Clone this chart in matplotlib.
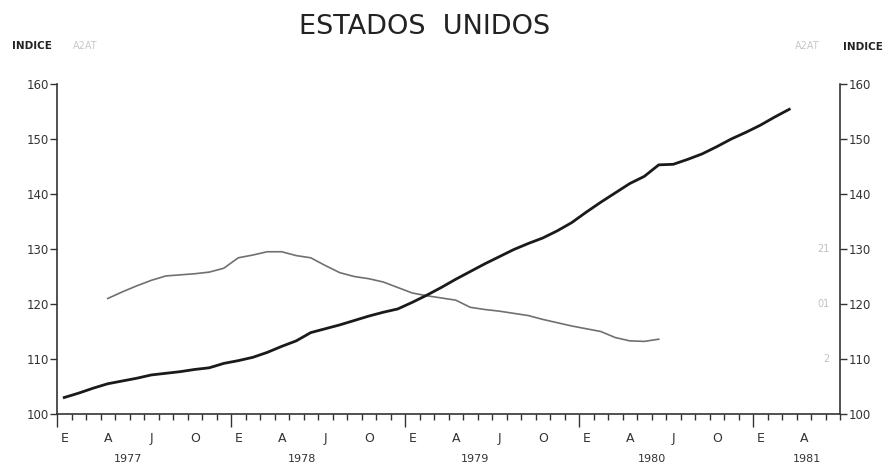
import matplotlib
matplotlib.use("Agg")
import matplotlib.pyplot as plt
import matplotlib.transforms as mtransforms

# month index 0 = enero 1977
indice_meses = list(range(0, 51))
indice = [103.0, 103.8, 104.7, 105.5, 106.0, 106.5, 107.1, 107.4, 107.7, 108.1,
          108.4, 109.2, 109.7, 110.3, 111.2, 112.3, 113.3, 114.8, 115.5, 116.2,
          117.0, 117.8, 118.5, 119.1, 120.3, 121.6, 123.0, 124.5, 125.9, 127.3,
          128.6, 129.9, 131.0, 132.0, 133.3, 134.8, 136.7, 138.5, 140.2, 141.9,
          143.2, 145.3, 145.4, 146.3, 147.3, 148.6, 150.0, 151.2, 152.5, 154.0,
          155.4]

tasa_meses = list(range(3, 42))
tasa = [121.0, 122.2, 123.3, 124.3, 125.1, 125.3, 125.5, 125.8, 126.5, 128.4,
        128.9, 129.5, 129.5, 128.8, 128.4, 127.0, 125.7, 125.0, 124.6, 124.0,
        123.0, 122.0, 121.5, 121.1, 120.7, 119.4, 119.0, 118.7, 118.3, 117.9,
        117.2, 116.6, 116.0, 115.5, 115.0, 113.9, 113.3, 113.2, 113.6]

y_ticks = [100, 110, 120, 130, 140, 150, 160]
mes_letras = ["E", "A", "J", "O"]
anios = ["1977", "1978", "1979", "1980", "1981"]
anio_pos = [4.9, 16.9, 28.8, 41.0, 51.7]

fig = plt.figure(figsize=(8.94, 4.65), dpi=100)
ax = fig.add_axes([57 / 894, 51 / 465, 783 / 894, 330 / 465])

ax.plot([m + 0.5 for m in tasa_meses], tasa, color="#707070", lw=1.2)
ax.plot([m + 0.5 for m in indice_meses], indice, color="#1a1a1a", lw=2.0)

ax.set_xlim(0, 54)
ax.set_ylim(100, 160)

ax.spines["top"].set_visible(False)
for s in ["left", "right", "bottom"]:
    ax.spines[s].set_color("#333333")
    ax.spines[s].set_linewidth(1.2)

ax.set_yticks(y_ticks)
ax.tick_params(axis="y", which="major", direction="out", length=5, width=1,
               colors="#333333", labelsize=8.5, left=True, right=True,
               labelleft=True, labelright=True, pad=1)

ax.set_xticks(range(0, 55, 12))
ax.set_xticks(range(0, 55), minor=True)
ax.set_xticklabels([])
ax.tick_params(axis="x", which="major", direction="out", length=9, width=1,
               colors="#333333")
ax.tick_params(axis="x", which="minor", direction="out", length=4, width=1,
               colors="#333333")

trans = mtransforms.blended_transform_factory(ax.transData, fig.transFigure)
for m in range(0, 54, 3):
    ax.text(m + 0.5, 1 - 438 / 465, mes_letras[(m // 3) % 4], transform=trans,
            ha="center", va="center", fontsize=9, color="#333333")
for lab, pos in zip(anios, anio_pos):
    ax.text(pos, 1 - 459 / 465, lab, transform=trans, ha="center",
            va="center", fontsize=8, color="#333333")

fig.text(425 / 894, 1 - 27 / 465, "ESTADOS  UNIDOS", ha="center",
         va="center", fontsize=19.5, color="#222222")
fig.text(12 / 894, 1 - 46 / 465, "INDICE", ha="left", va="center",
         fontsize=7.5, color="#222222", fontweight="bold")
fig.text(73 / 894, 1 - 46 / 465, "A2AT", ha="left", va="center",
         fontsize=7, color="#c8c8c8")
fig.text(795 / 894, 1 - 46 / 465, "A2AT", ha="left", va="center",
         fontsize=7, color="#c8c8c8")
fig.text(843 / 894, 1 - 47 / 465, "INDICE", ha="left", va="center",
         fontsize=7.5, color="#222222", fontweight="bold")

# faint marks from the tasa scale near the right axis
for val, lab in [(130, "21"), (120, "01"), (110, "2")]:
    ax.text(53.3, val, lab, ha="right", va="center", fontsize=7,
            color="#c0c0c0")

fig.savefig("out.png", dpi=100)
